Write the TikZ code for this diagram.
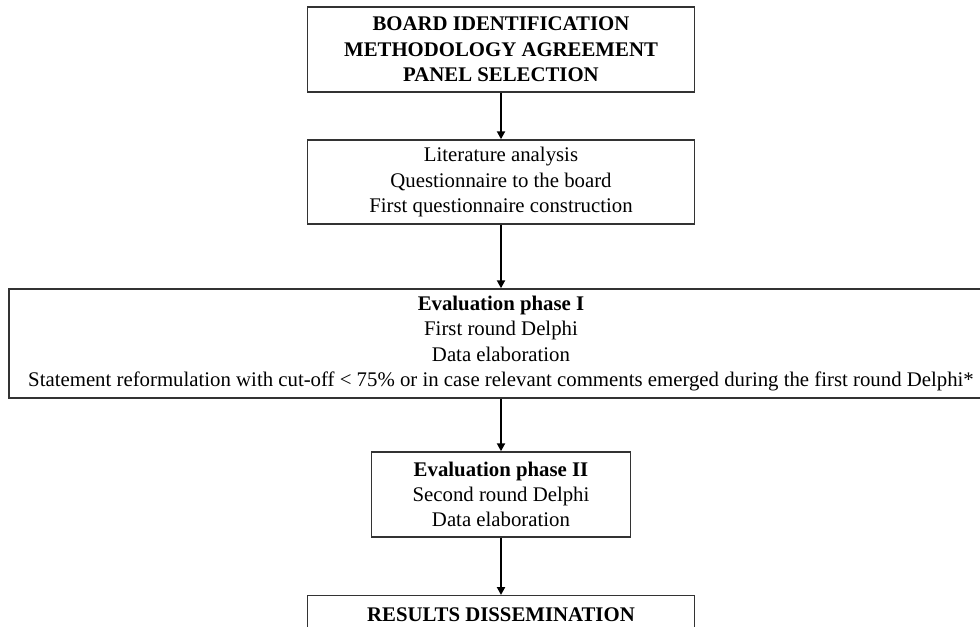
\documentclass[tikz,border=0pt]{standalone}
\usepackage{fontspec}
\setmainfont{Liberation Serif}
\usetikzlibrary{arrows.meta}
\begin{document}
\begin{tikzpicture}[x=0.75pt,y=-0.75pt,
  box/.style={draw=black!80, line width=1.1pt, rectangle, align=center, inner sep=0pt,
    font=\fontsize{15.6}{19}\selectfont},
  arr/.style={-{Triangle[length=6pt,width=6pt]}, line width=1.5pt, black}]
\useasboundingbox (0,0) rectangle (980,627);
\clip (0,0) rectangle (980,627);
\node[box, minimum width=290pt, minimum height=63.75pt] (b1) at (501,49.5)
  {\textbf{BOARD IDENTIFICATION}\\\textbf{METHODOLOGY AGREEMENT}\\\textbf{PANEL SELECTION}};
\node[box, minimum width=290pt, minimum height=63pt] (b2) at (501,182)
  {Literature analysis\\Questionnaire to the board\\First questionnaire construction};
\node[box, minimum width=738pt, minimum height=81.75pt] (b3) at (501,343.5)
  {\textbf{Evaluation phase I}\\First round Delphi\\Data elaboration\\Statement reformulation with cut-off < 75\% or in case relevant comments emerged during the first round Delphi*};
\node[box, minimum width=194.25pt, minimum height=63.75pt] (b4) at (501,494.5)
  {\textbf{Evaluation phase II}\\Second round Delphi\\Data elaboration};
\node[box, anchor=north, minimum width=290pt, inner ysep=9pt, text depth=50pt] (b5) at (501,595)
  {\textbf{RESULTS DISSEMINATION}};
\draw[arr] (b1) -- (b2);
\draw[arr] (b2) -- (b3);
\draw[arr] (b3) -- (b4);
\draw[arr] (b4) -- (b5);
\end{tikzpicture}
\end{document}
